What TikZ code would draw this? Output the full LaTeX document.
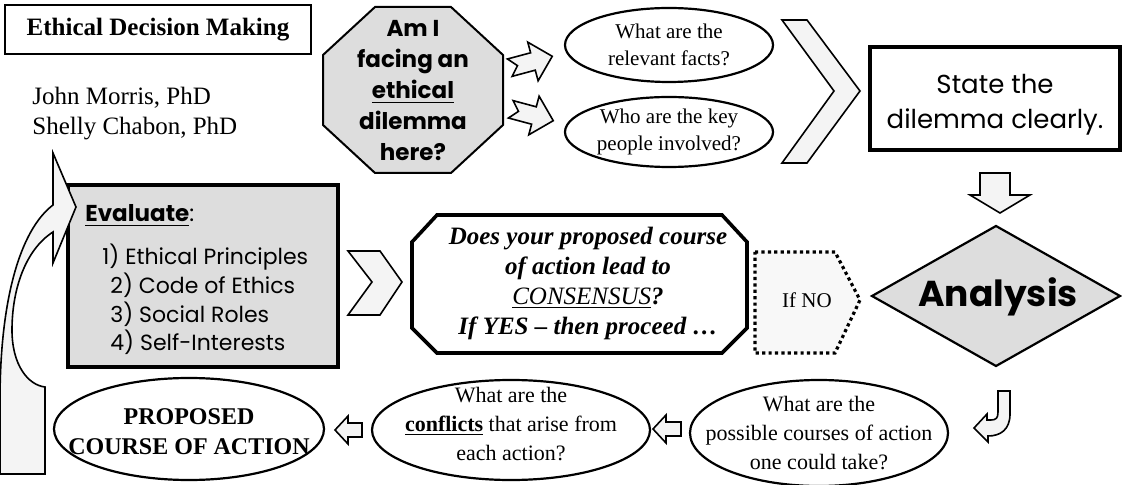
\documentclass[tikz,border=0pt]{standalone}
\usepackage{fontspec}
\setmainfont{Liberation Serif}
\newfontfamily\comic{Poppins}
\definecolor{boxgray}{HTML}{DDDDDD}
\definecolor{arrowgray}{HTML}{F4F4F4}

\begin{document}
\begin{tikzpicture}[x=0.5pt,y=-0.5pt,
  blockarrow/.style={draw,fill=arrowgray,line width=0.8pt,line join=miter},
  ellbox/.style={draw,line width=1.1pt},
  serif/.style={font=\fontsize{12.5}{15}\selectfont,align=center},
  small/.style={font=\fontsize{10.5}{13.5}\selectfont,align=center},
  medium/.style={font=\fontsize{11}{14.5}\selectfont,align=center},
  comictext/.style={font=\comic\fontsize{11}{14}\selectfont,inner sep=0pt}]
  \useasboundingbox (0,0) rectangle (1122,485);

  % title and authors
  \node[draw,line width=1pt,minimum width=153pt,minimum height=24.5pt,font=\fontsize{12.5}{15}\selectfont\bfseries] (title) at (158,29.5) {Ethical Decision Making};
  \node[serif,anchor=base west,inner sep=0pt] (author1) at (32,105) {John Morris, PhD};
  \node[serif,anchor=base west,inner sep=0pt] (author2) at (32,135) {Shelly Chabon, PhD};

  % first question
  \draw[line width=1pt,fill=boxgray] (375,7) -- (451,7) -- (503,55) -- (503,125) -- (451,173) -- (375,173) -- (323,125) -- (323,55) -- cycle;
  \node[font=\comic\bfseries\fontsize{11.5}{15.5}\selectfont,align=center] (dilemma) at (413,91) {Am I\\facing an\\\underline{ethical}\\dilemma\\here?};
  \draw[blockarrow,shift={(531,62)},rotate=15] (-22,-9) -- (2,-9) -- (2,-20) -- (22,0) -- (2,20) -- (2,9) -- (-22,9) -- (-14,0) -- cycle;
  \draw[blockarrow,shift={(532,115)},rotate=-15] (-22,-9) -- (2,-9) -- (2,-20) -- (22,0) -- (2,20) -- (2,9) -- (-22,9) -- (-14,0) -- cycle;
  \node[small] (facts) at (669,45) {What are the\\relevant facts?};
  \draw[ellbox] (facts.center) ellipse [x radius=104, y radius=37];
  \node[small] (people) at (669,132) {Who are the key\\people involved?};
  \draw[ellbox] (people.center) ellipse [x radius=104, y radius=35];
  \draw[blockarrow] (782,20) -- (807,20) -- (860,91) -- (807,163) -- (782,163) -- (834,91) -- cycle;

  % state the dilemma
  \node[draw,line width=1.8pt,minimum width=125pt,minimum height=51.5pt] (statebox) at (995,98.5) {};
  \node[font=\comic\fontsize{13}{17.5}\selectfont,align=center] (state) at (995,105) {State the\\dilemma clearly.};
  \draw[blockarrow] (980,173) -- (1010,173) -- (1010,195) -- (1030,195) -- (1000,213) -- (970,195) -- (980,195) -- cycle;

  % analysis
  \draw[line width=1.1pt,fill=boxgray] (872,296) -- (996,226) -- (1120,296) -- (996,366) -- cycle;
  \node[font=\comic\bfseries\fontsize{18}{22}\selectfont] (analysis) at (998,297) {Analysis};
  \draw[line width=1.6pt,dash pattern=on 1.6pt off 1.6pt,fill=arrowgray!60] (755,252) -- (835,252) -- (860,300) -- (835,353) -- (755,353) -- cycle;
  \node[small] (ifno) at (807,300) {If NO};

  % consensus
  \draw[line width=1.8pt] (437,215) -- (722,215) -- (747,242) -- (747,328) -- (722,353) -- (437,353) -- (412,328) -- (412,242) -- cycle;
  \node[font=\fontsize{12.5}{15}\selectfont\bfseries\itshape,align=center] (consensus) at (588,283) {Does your proposed course\\of action lead to\\\underline{\mdseries CONSENSUS}?\\If YES – then proceed …};
  \draw[blockarrow] (348,251) -- (380,251) -- (402,282) -- (380,315) -- (348,315) -- (372,282) -- cycle;

  % evaluate
  \node[draw,line width=1.8pt,fill=boxgray,minimum width=135pt,minimum height=91pt] (evalbox) at (203,276) {};
  \node[comictext,font=\comic\fontsize{11.5}{14}\selectfont,anchor=base west] (evalhead) at (85,222) {\textbf{\underline{Evaluate}}:};
  \node[comictext,anchor=west] (item1) at (102,257) {1) Ethical Principles};
  \node[comictext,anchor=west] (item2) at (110,285) {2) Code of Ethics};
  \node[comictext,anchor=west] (item3) at (110,314) {3) Social Roles};
  \node[comictext,anchor=west] (item4) at (110,342) {4) Self-Interests};

  % bottom row
  \draw[blockarrow] (998,391) -- (1010,391) -- (1010,414) .. controls (1010,430) and (1000,436) .. (988,436) -- (988,442) -- (974,428) -- (987,414) -- (987,420) -- (991,420) .. controls (996,420) and (998,418) .. (998,412) -- cycle;
  \node[medium] (options) at (819,433) {What are the\\possible courses of action\\one could take?};
  \draw[ellbox] (options.center) ellipse [x radius=129, y radius=53];
  \draw[blockarrow] (653,429) -- (666,415) -- (666,422) -- (681,422) -- (681,436) -- (666,436) -- (666,443) -- cycle;
  \node[medium] (conflicts) at (511,424) {What are the\\\textbf{\underline{conflicts}} that arise from\\each action?};
  \draw[ellbox] (511,430) ellipse [x radius=139, y radius=50];
  \draw[blockarrow] (335,430) -- (348,416) -- (348,423) -- (362,423) -- (362,437) -- (348,437) -- (348,444) -- cycle;
  \node[font=\fontsize{12}{15}\selectfont\bfseries,align=center] (proposed) at (189,432) {PROPOSED\\COURSE OF ACTION};
  \draw[ellbox] (189,429) ellipse [x radius=135, y radius=51];

  % back to evaluate
  \draw[blockarrow] (0,474) -- (0,400) .. controls (0,300) and (20,230) .. (53,205) -- (53,153) -- (76,207) -- (53,263) -- (53,232) .. controls (25,250) and (12,290) .. (12,330) .. controls (12,365) and (28,385) .. (45,387) -- (45,474) -- cycle;
\end{tikzpicture}
\end{document}
